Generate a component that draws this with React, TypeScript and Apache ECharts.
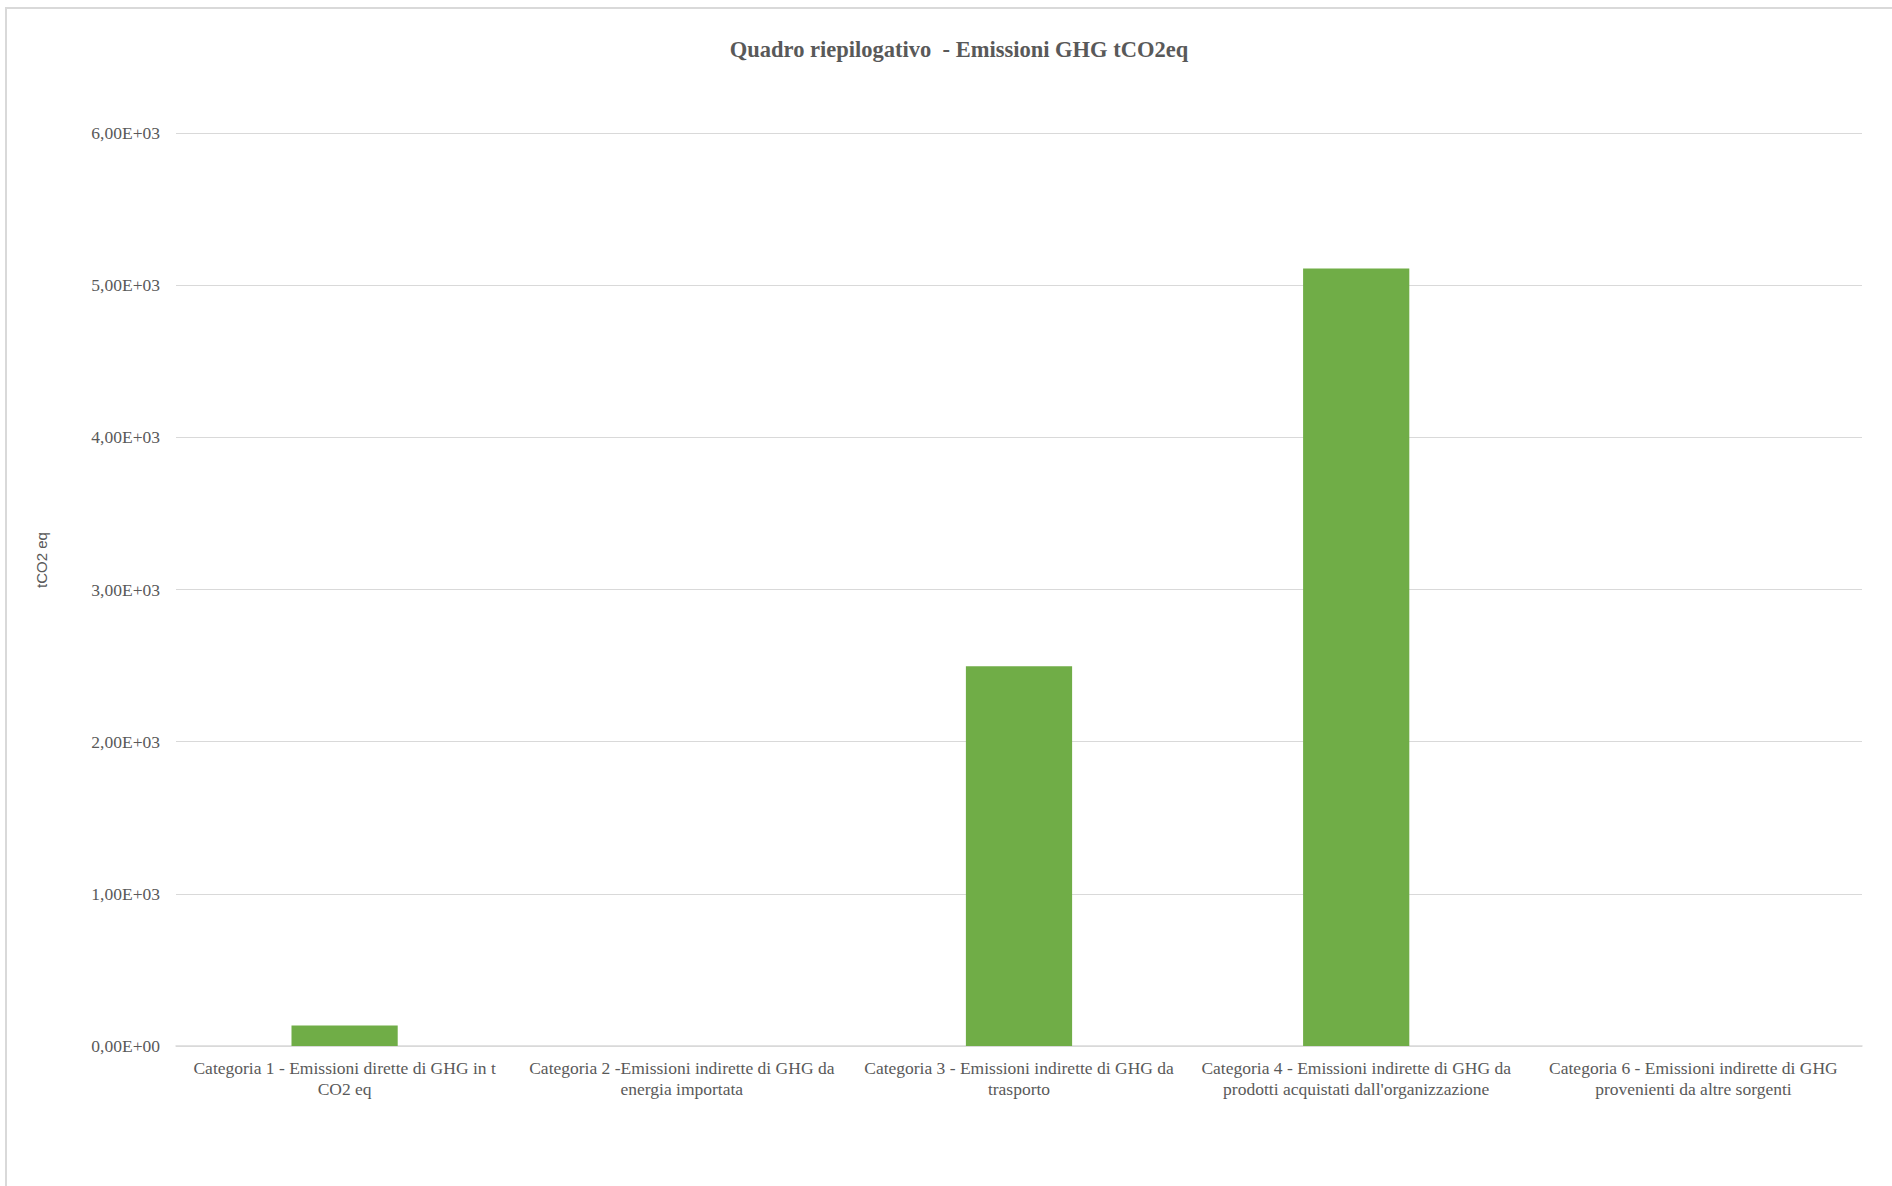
import React, { useEffect, useRef } from "react";
import * as echarts from "echarts";

const titleText = "Quadro riepilogativo  - Emissioni GHG tCO2eq";
const yAxisName = "tCO2 eq";
const categories = [
  "Categoria 1 - Emissioni dirette di GHG in t\nCO2 eq",
  "Categoria 2 -Emissioni indirette di GHG da\nenergia importata",
  "Categoria 3 - Emissioni indirette di GHG da\ntrasporto",
  "Categoria 4 - Emissioni indirette di GHG da\nprodotti acquistati dall'organizzazione",
  "Categoria 6 - Emissioni indirette di GHG\nprovenienti da altre sorgenti",
];
const values = [135, 0, 2495, 5110, 0];
const yMin = 0;
const yMax = 6000;
const yStep = 1000;

function sci(v: number): string {
  if (v === 0) return "0,00E+00";
  const exp = Math.floor(Math.log10(Math.abs(v)));
  const mant = v / Math.pow(10, exp);
  const sign = exp < 0 ? "-" : "+";
  const e = String(Math.abs(exp)).padStart(2, "0");
  return mant.toFixed(2).replace(".", ",") + "E" + sign + e;
}

export default function App() {
  const ref = useRef<HTMLDivElement>(null);
  useEffect(() => {
    if (!ref.current) return;
    const chart = echarts.init(ref.current, null, { renderer: "svg" });
    const grey = "#595959";
    chart.setOption({
      animation: false,
      backgroundColor: "#ffffff",
      title: {
        text: titleText,
        left: 954,
        top: 33,
        textAlign: "center",
        textStyle: {
          fontFamily: "Liberation Serif",
          fontWeight: "bold",
          fontSize: 22.5,
          color: grey,
        },
      },
      grid: { left: 176, right: 30, top: 133, bottom: 140, containLabel: false },
      xAxis: {
        type: "category",
        data: categories,
        axisLine: { lineStyle: { color: "#d9d9d9", width: 1.5 } },
        axisTick: { show: false },
        axisLabel: {
          interval: 0,
          margin: 11,
          fontFamily: "Liberation Serif",
          fontSize: 17.5,
          lineHeight: 21,
          color: grey,
          align: "center",
        },
      },
      yAxis: {
        type: "value",
        min: yMin,
        max: yMax,
        interval: yStep,
        axisLine: { show: false },
        axisTick: { show: false },
        splitLine: { lineStyle: { color: "#d9d9d9", width: 1 } },
        axisLabel: {
          margin: 16,
          fontFamily: "Liberation Serif",
          fontSize: 17.5,
          color: grey,
          formatter: (v: number) => sci(v),
        },
      },
      series: [
        {
          type: "bar",
          data: values,
          barWidth: "31.5%",
          itemStyle: { color: "#70AD47" },
        },
      ],
      graphic: [
        {
          type: "polyline",
          shape: { points: [[6, 1186], [6, 8], [1892, 8]] },
          style: { stroke: "#d9d9d9", lineWidth: 2, fill: "none" },
          silent: true,
        },
        {
          type: "text",
          x: 41,
          y: 560,
          rotation: Math.PI / 2,
          style: {
            text: yAxisName,
            fontFamily: "Liberation Sans",
            fontSize: 15,
            fill: grey,
            align: "center",
            verticalAlign: "middle",
          },
        },
      ],
    });
    return () => chart.dispose();
  }, []);
  return (
    <div
      ref={ref}
      style={{ position: "fixed", left: 0, top: 0, width: 1892, height: 1186 }}
    />
  );
}
